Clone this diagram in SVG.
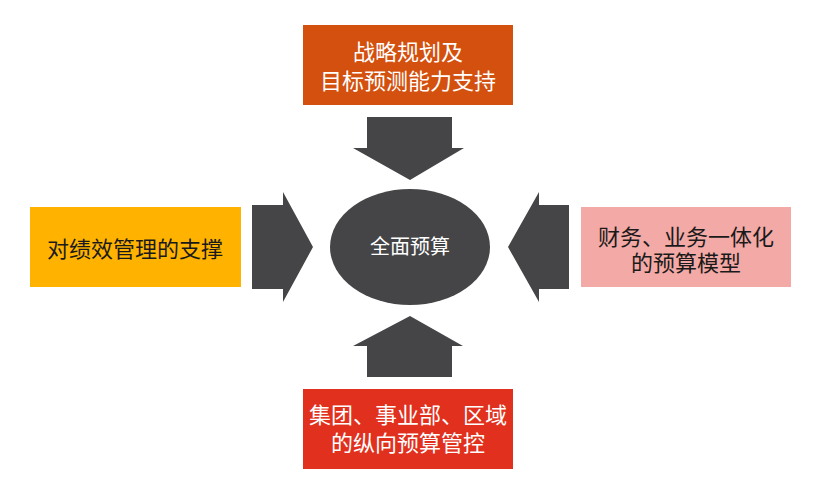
<svg xmlns="http://www.w3.org/2000/svg" width="830" height="494" viewBox="0 0 830 494">
<style>
.t{font-family:"Liberation Sans","Noto Sans CJK SC",sans-serif;font-size:22px;text-anchor:middle;dominant-baseline:central}
.w{fill:#ffffff}
.k{fill:#1a1a1a}
.arr{fill:#454547}
</style>
<rect width="830" height="494" fill="#ffffff"/>
<g id="center">
<ellipse cx="410" cy="247" rx="80" ry="58" fill="#454547"/>
<text class="t w" x="410" y="247" style="font-size:20px">全面预算</text>
</g>
<g id="top">
<rect x="303" y="25" width="210" height="80" fill="#D3500E"/>
<text class="t w" x="408" y="52">战略规划及</text>
<text class="t w" x="408" y="81">目标预测能力支持</text>
</g>
<g id="left">
<rect x="30" y="207" width="211" height="80" fill="#FFB300"/>
<text class="t k" x="135" y="249">对绩效管理的支撑</text>
</g>
<g id="right">
<rect x="581" y="207" width="210" height="80" fill="#F3A9A5"/>
<text class="t k" x="686" y="237">财务、业务一体化</text>
<text class="t k" x="686" y="263">的预算模型</text>
</g>
<g id="bottom">
<rect x="303" y="389" width="210" height="80" fill="#E1301E"/>
<text class="t w" x="408" y="415">集团、事业部、区域</text>
<text class="t w" x="408" y="443">的纵向预算管控</text>
</g>
<g id="connectors">
<polygon class="arr" points="367,117 452,117 452,148 464,148 410,180 353,148 367,148"/>
<polygon class="arr" points="252,205 283,205 283,192 313,247 283,302 283,289 252,289"/>
<polygon class="arr" points="569,205 539,205 539,192 508,247 539,302 539,289 569,289"/>
<polygon class="arr" points="367,377 452,377 452,346 463,346 410,316 353,346 367,346"/>
</g>
</svg>
